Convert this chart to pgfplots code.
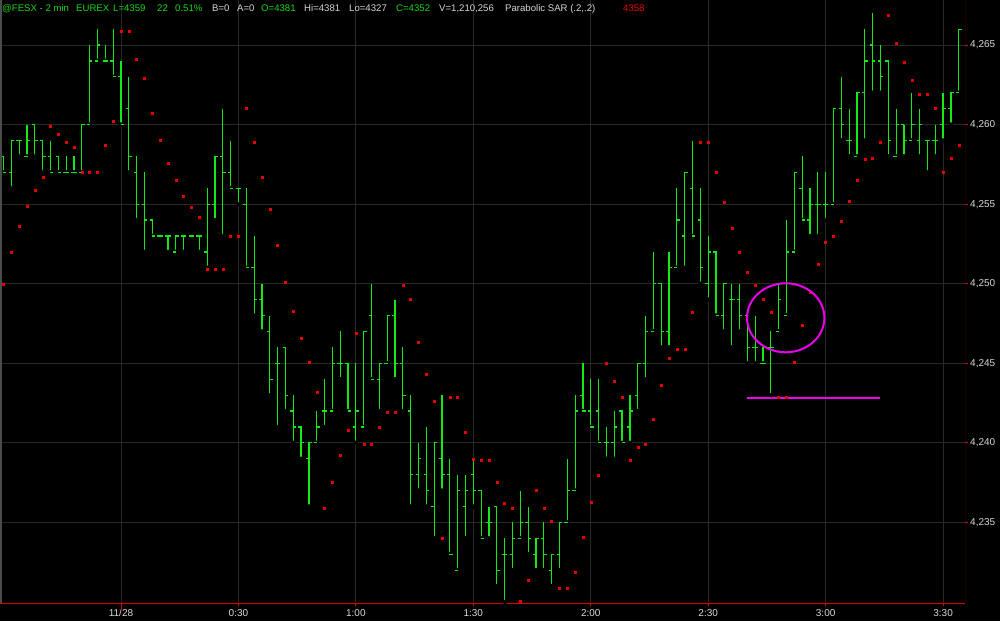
\documentclass[border=0pt]{standalone}
\usepackage{fontspec}
\setmainfont{Liberation Sans}
\usepackage{pgfplots}
\usepackage{pgfplotstable}
\pgfplotsset{compat=1.18}

\definecolor{bargreen}{RGB}{20,235,20}
\definecolor{hdrgreen}{RGB}{25,215,25}
\definecolor{sarred}{RGB}{235,0,0}
\definecolor{gridgray}{RGB}{40,40,40}
\definecolor{labelgray}{RGB}{215,215,215}
\definecolor{axisred}{RGB}{225,0,0}
\definecolor{annot}{RGB}{235,0,235}

% open tick points left, close tick points right
\pgfdeclareplotmark{openTick}{%
  \pgfpathmoveto{\pgfqpoint{-2.8pt}{0pt}}\pgfpathlineto{\pgfqpoint{0.5pt}{0pt}}\pgfusepathqstroke}
\pgfdeclareplotmark{closeTick}{%
  \pgfpathmoveto{\pgfqpoint{-0.5pt}{0pt}}\pgfpathlineto{\pgfqpoint{2.8pt}{0pt}}\pgfusepathqstroke}

% 2-minute bars: time (min from midnight), open, high, low, close, parabolic SAR
\pgfplotstableread{
t O H L C S
-30 4258 4258 4257 4257 4250.0
-28 4257 4259 4256 4259 4252.0
-26 4259 4259 4258 4259 4253.6
-24 4258 4260 4258 4259 4254.9
-22 4260 4260 4258 4259 4255.9
-20 4259 4259 4257 4258 4256.7
-18 4258 4259 4257 4257 4259.9
-16 4258 4258 4257 4257 4259.4
-14 4257 4258 4257 4257 4258.9
-12 4257 4258 4257 4257 4258.6
-10 4257 4260 4257 4260 4257.0
-8 4260 4265 4260 4264 4257.0
-6 4264 4266 4264 4265 4257.0
-4 4264 4265 4264 4264 4258.7
-2 4264 4266 4263 4263 4260.2
0 4263 4264 4260 4260 4265.9
2 4261 4263 4257 4258 4265.9
4 4257 4258 4254 4255 4264.1
6 4255 4257 4252 4254 4262.9
8 4254 4254 4253 4253 4260.7
10 4253 4253 4253 4253 4259.0
12 4253 4253 4252 4253 4257.6
14 4252 4253 4252 4253 4256.5
16 4253 4253 4252 4253 4255.5
18 4253 4253 4253 4253 4254.8
20 4253 4253 4252 4253 4254.2
22 4252 4256 4251 4255 4250.9
24 4255 4258 4254 4258 4250.9
26 4258 4261 4253 4257 4250.9
28 4257 4259 4256 4256 4253.0
30 4256 4256 4255 4256 4253.0
32 4255 4256 4251 4251 4261.0
34 4251 4253 4248 4249 4258.9
36 4249 4250 4247 4248 4256.7
38 4247 4248 4243 4244 4254.7
40 4245 4246 4241 4245 4252.4
42 4246 4246 4242 4243 4250.1
44 4242 4243 4240 4241 4248.3
46 4241 4241 4239 4240 4246.6
48 4239 4240 4236 4240 4245.1
50 4240 4242 4240 4241 4243.2
52 4242 4244 4241 4242 4235.9
54 4242 4246 4242 4245 4237.5
56 4245 4247 4244 4245 4239.2
58 4245 4245 4242 4242 4240.8
60 4241 4245 4240 4242 4246.9
62 4241 4247 4241 4247 4239.9
64 4248 4250 4244 4244 4239.9
66 4244 4245 4242 4245 4241.0
68 4245 4248 4245 4248 4241.9
70 4248 4249 4244 4245 4241.9
72 4245 4246 4242 4243 4249.9
74 4242 4243 4236 4238 4249.0
76 4238 4240 4237 4239 4246.3
78 4238 4241 4236 4237 4244.3
80 4236 4240 4234 4240 4242.6
82 4239 4243 4237 4238 4234.0
84 4238 4239 4233 4233 4242.9
86 4232 4238 4232 4237 4242.9
88 4236 4238 4234 4237 4240.7
90 4238 4239 4236 4237 4239.0
92 4237 4237 4234 4234 4238.9
94 4235 4236 4234 4235 4238.9
96 4236 4236 4231 4232 4237.5
98 4233 4234 4230 4233 4236.2
100 4233 4235 4232 4234 4235.9
102 4234 4237 4234 4235 4230.05
104 4235 4236 4233 4234 4231.4
106 4233 4234 4232 4234 4237.0
108 4234 4235 4232 4233 4235.9
110 4232 4233 4231 4233 4235.1
112 4233 4235 4232 4235 4230.9
114 4235 4239 4235 4237 4230.9
116 4237 4243 4237 4242 4231.9
118 4243 4245 4242 4242 4234.1
120 4242 4244 4241 4241 4236.3
122 4242 4244 4240 4240 4238.0
124 4240 4241 4239 4240 4245.0
126 4240 4242 4239 4241 4243.9
128 4242 4242 4240 4240 4242.9
130 4241 4243 4240 4242 4238.9
132 4243 4245 4242 4245 4239.7
134 4245 4248 4244 4247 4239.9
136 4247 4252 4247 4250 4241.5
138 4250 4250 4246 4247 4243.6
140 4247 4252 4246 4251 4245.3
142 4251 4256 4251 4254 4245.9
144 4253 4257 4251 4257 4245.9
146 4256 4259 4253 4253 4248.2
148 4254 4256 4250 4251 4258.9
150 4250 4253 4249 4252 4258.9
152 4252 4252 4248 4248 4257.0
154 4248 4250 4247 4250 4255.1
156 4249 4250 4246 4249 4253.5
158 4249 4250 4247 4248 4252.0
160 4248 4248 4245 4246 4250.7
162 4246 4248 4245 4246 4249.9
164 4245 4246 4245 4245 4249.0
166 4246 4247 4243 4246 4248.2
168 4247 4250 4247 4249 4242.9
170 4248 4254 4248 4252 4242.9
172 4252 4257 4252 4257 4245.1
174 4256 4258 4254 4254 4247.4
176 4254 4256 4253 4255 4249.5
178 4255 4257 4253 4255 4251.2
180 4255 4257 4254 4255 4252.6
182 4255 4261 4255 4261 4253.0
184 4261 4263 4259 4260 4253.9
186 4259 4261 4258 4259 4255.2
188 4258 4262 4258 4262 4256.5
190 4262 4266 4259 4264 4257.8
192 4265 4267 4262 4264 4257.9
194 4264 4265 4262 4263 4258.9
196 4264 4264 4258 4259 4266.9
198 4258 4261 4258 4260 4265.1
200 4260 4260 4258 4259 4263.9
202 4259 4262 4259 4260 4262.8
204 4259 4261 4258 4260 4261.9
206 4259 4259 4257 4259 4261.9
208 4259 4260 4258 4259 4261.0
210 4260 4262 4259 4261 4257.0
212 4261 4262 4260 4262 4257.9
214 4262 4266 4262 4266 4258.7
}\bars

\begin{document}
\begin{tikzpicture}[x=1pt,y=1pt]
\fill[black] (0,0) rectangle (1000,621);
\useasboundingbox (0,0) rectangle (1000,621);
\begin{axis}[
  at={(0pt,18pt)}, anchor=south west,
  scale only axis, width=965pt, height=603pt,
  xmin=-30.91, xmax=215.6,
  ymin=4229.94, ymax=4267.83,
  axis line style={draw=none},
  grid=major,
  major grid style={gridgray, line width=1pt},
  xtick={0,30,...,210},
  xticklabels={11/28,0:30,1:00,1:30,2:00,2:30,3:00,3:30},
  ytick={4235,4240,...,4265},
  yticklabels={{4,235},{4,240},{4,245},{4,250},{4,255},{4,260},{4,265}},
  xtick pos=bottom, ytick pos=right,
  yticklabel pos=right,
  tick align=outside,
  major tick length=3pt,
  tick style={axisred, line width=1pt},
  xticklabel style={font=\fontsize{10}{12}\selectfont, text=labelgray, anchor=north, inner sep=0pt, yshift=-3pt},
  yticklabel style={font=\fontsize{10}{12}\selectfont, text=labelgray, anchor=west, inner sep=0pt, xshift=2pt},
  extra x ticks={0},
  extra x tick labels={},
  extra x tick style={major tick length=7pt, grid=none},
]
% high-low ranges
\addplot[only marks, mark=none,
  error bars/.cd, y dir=plus, y explicit, error mark=none,
  error bar style={draw=bargreen, line width=1.2pt}]
  table[x=t, y=L, y error expr=\thisrow{H}-\thisrow{L}] {\bars};
% opens and closes
\addplot[only marks, mark=openTick, mark options={draw=bargreen, line width=1.2pt}]
  table[x=t, y=O] {\bars};
\addplot[only marks, mark=closeTick, mark options={draw=bargreen, line width=1.2pt}]
  table[x=t, y=C] {\bars};
% parabolic SAR
\addplot[only marks, mark=square*, mark size=1pt, draw=sarred, fill=sarred]
  table[x=t, y=S] {\bars};
% support line under the double bottom
\addplot[annot, line width=2pt, mark=none] coordinates {(159.9,4242.8) (193.9,4242.8)};
\coordinate (ring) at (axis cs:169.8,4247.86);
% frame
\draw[axisred, line width=1pt] (rel axis cs:1,0) -- (rel axis cs:1,1);
\draw[axisred, line width=1pt] (rel axis cs:0,0) -- (rel axis cs:1,0);
\end{axis}
\draw[annot, line width=2pt] (ring) ellipse [x radius=38.7pt, y radius=34.5pt];
\draw[gray!60!black, line width=1.5pt] (0.75,18) -- (0.75,621);
% quote header
\begin{scope}[every node/.style={anchor=base west, inner sep=0pt, font=\fontsize{9.6}{11}\selectfont}]
\node[text=hdrgreen] at (2,609.5) {@FESX - 2 min};
\node[text=hdrgreen] at (76,609.5) {EUREX};
\node[text=hdrgreen] at (113,609.5) {L=4359};
\node[text=hdrgreen] at (157,609.5) {22};
\node[text=hdrgreen] at (175,609.5) {0.51\%};
\node[text=labelgray] at (212,609.5) {B=0};
\node[text=labelgray] at (237,609.5) {A=0};
\node[text=hdrgreen] at (261,609.5) {O=4381};
\node[text=labelgray] at (304,609.5) {Hi=4381};
\node[text=labelgray] at (349,609.5) {Lo=4327};
\node[text=hdrgreen] at (396,609.5) {C=4352};
\node[text=labelgray] at (439,609.5) {V=1,210,256};
\node[text=labelgray] at (505,609.5) {Parabolic SAR (.2,.2)};
\node[text=sarred] at (623,609.5) {4358};
\end{scope}
\end{tikzpicture}
\end{document}
